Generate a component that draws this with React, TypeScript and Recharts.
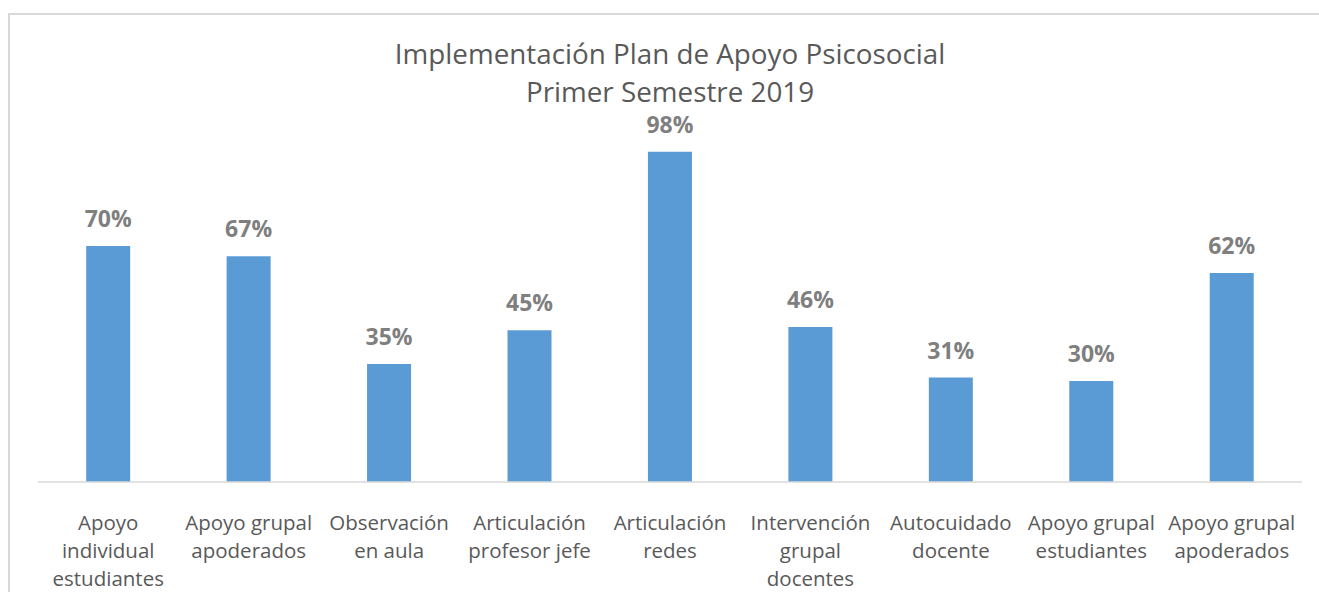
import React from 'react';
import { BarChart, Bar, XAxis, YAxis, LabelList } from 'recharts';

// categories (line breaks as in the original axis labels)
const categories = [
  'Apoyo\nindividual\nestudiantes',
  'Apoyo grupal\napoderados',
  'Observación\nen aula',
  'Articulación\nprofesor jefe',
  'Articulación\nredes',
  'Intervención\ngrupal\ndocentes',
  'Autocuidado\ndocente',
  'Apoyo grupal\nestudiantes',
  'Apoyo grupal\napoderados',
];
const values = [70, 67, 35, 45, 98, 46, 31, 30, 62];
const titleLines = ['Implementación Plan de Apoyo Psicosocial', 'Primer Semestre 2019'];

const data = categories.map((name, i) => ({ name, value: values[i] }));

const FONT = '"Open Sans", sans-serif';

const CategoryTick = (props: any) => {
  const { x, y, payload } = props;
  const lines = String(payload.value).split('\n');
  return (
    <g transform={`translate(${x},${y})`}>
      <text textAnchor="middle" fill="#595959" fontSize={20.5} fontFamily={FONT}>
        {lines.map((line, i) => (
          <tspan key={i} x={0} y={40 + i * 28}>
            {line}
          </tspan>
        ))}
      </text>
    </g>
  );
};

const App: React.FC = () => {
  return (
    <div
      style={{
        position: 'absolute',
        left: 0,
        top: 0,
        width: 1319,
        height: 592,
        overflow: 'hidden',
        background: '#fff',
      }}
    >
      {/* chart frame, clipped on the right and bottom like the source */}
      <div
        style={{
          position: 'absolute',
          left: 8,
          top: 13,
          width: 1400,
          height: 700,
          border: '2px solid #d9d9d9',
        }}
      />
      <div style={{ position: 'absolute', left: 0, top: 0 }}>
        <BarChart
          width={1319}
          height={592}
          data={data}
          margin={{ top: 145, right: 17, left: 38, bottom: 0 }}
          barCategoryGap="34.3%"
        >
          <XAxis
            dataKey="name"
            height={110}
            interval={0}
            tickLine={false}
            axisLine={{ stroke: '#d9d9d9', strokeWidth: 1.5 }}
            tick={<CategoryTick />}
          />
          <YAxis hide domain={[0, 100]} />
          <Bar dataKey="value" fill="#5b9bd5" isAnimationActive={false}>
            <LabelList
              dataKey="value"
              position="top"
              offset={19}
              formatter={(v: any) => `${v}%`}
              fill="#7f7f7f"
              fontSize={23}
              fontWeight="bold"
              fontFamily={FONT}
            />
          </Bar>
        </BarChart>
      </div>
      <svg
        width={1319}
        height={130}
        style={{ position: 'absolute', left: 0, top: 0 }}
      >
        {titleLines.map((t, i) => (
          <text
            key={i}
            x={670}
            y={63.5 + i * 38.5}
            textAnchor="middle"
            fill="#595959"
            fontSize={27.8}
            fontFamily={FONT}
          >
            {t}
          </text>
        ))}
      </svg>
    </div>
  );
};

export default App;
